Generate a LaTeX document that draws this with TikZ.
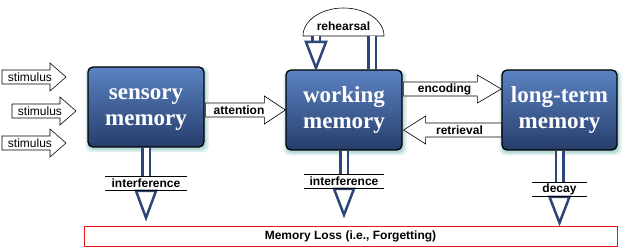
\documentclass[tikz,border=0pt]{standalone}
\usepackage{fontspec}
\setmainfont{Liberation Serif}
\setsansfont{Liberation Sans}
\usetikzlibrary{calc,shadows}
\definecolor{navy}{HTML}{2C4679}
\definecolor{boxtop}{HTML}{5B83C2}
\definecolor{boxbot}{HTML}{273D6C}
\definecolor{glow}{HTML}{8CC8C2}
\definecolor{lossred}{HTML}{E8141B}

% horizontal block arrow: #1 label name, #2 start, #3 tip, #4 text, #5 head length, #6 label style
\newcommand\hblock[6]{%
  \draw[blk] let \p1=#2, \p2=#3, \n1={(\x2>\x1)?1:-1} in
    (\x1,\y1+7pt) -- ({\x2-(\n1)*(#5)},\y1+7pt) -- ({\x2-(\n1)*(#5)},\y1+14pt)
    -- (\x2,\y1) -- ({\x2-(\n1)*(#5)},\y1-14pt) -- ({\x2-(\n1)*(#5)},\y1-7pt)
    -- (\x1,\y1-7pt) -- cycle
    node[#6] (#1) at ({(\x1+\x2-(\n1)*(#5)+(\n1)*8pt)/2},\y1) {#4};}

% downward arrow with label: #1 box, #2 label name, #3 text, #4 offset, #5 label width, #6 head length
\newcommand\downarr[6]{%
  \node[dlbl, minimum width=#5] (#2) at ($(#1.south)+(0,#4)$) {#3};
  \draw[dshaft] (#1.south) -- (#2.north);
  \draw[dhead] ($(#2.south)+(-10,0)$) -- ($(#2.south)+(0,#6)$) -- ($(#2.south)+(10,0)$) -- cycle;
  \draw[lblline] (#2.north west) -- (#2.north east) (#2.south west) -- (#2.south east);}

\begin{document}
\begin{tikzpicture}[x=1pt,y=-1pt,
  mem/.style={draw=black, line width=1.3pt, rounded corners=5pt,
    top color=boxtop, bottom color=boxbot, minimum width=116pt, minimum height=80pt,
    inner sep=0pt, text=white, align=center, font=\bfseries\fontsize{23}{26}\selectfont,
    general shadow={fill=glow, opacity=.3, shadow xshift=1pt, shadow yshift=-2.5pt, shadow scale=1.06},
    general shadow={fill=glow, opacity=.5, shadow xshift=1pt, shadow yshift=-2pt, shadow scale=1.025}},
  blk/.style={draw=black, line width=.6pt, fill=white, line join=miter},
  lbl/.style={inner sep=0pt, font=\sffamily\bfseries\fontsize{12}{14}\selectfont},
  slbl/.style={inner sep=0pt, font=\sffamily\fontsize{12}{14}\selectfont},
  dlbl/.style={fill=white, minimum height=14pt, inner sep=0pt, font=\sffamily\bfseries\fontsize{12}{14}\selectfont},
  dshaft/.style={draw=navy, double=white, line width=2.5pt, double distance=5pt},
  dhead/.style={draw=navy, line width=2.5pt, fill=white, line join=miter},
  lblline/.style={draw=black, line width=.8pt},
  lossbox/.style={draw=lossred, line width=.9pt, minimum width=533pt, minimum height=20pt, inner sep=0pt,
    font=\sffamily\bfseries\fontsize{12}{14}\selectfont}
]
\useasboundingbox (0,0) rectangle (629,248);

% memory boxes
\node[mem] (sensory) at (146,107) {sensory\vphantom{k}\\memory};
\node[mem] (working) at (344,110) {working\\memory};
\node[mem, minimum width=115pt] (longterm) at (559.5,110) {long-term\\memory};

% stimulus arrows
\coordinate (s1a) at (2,77);  \coordinate (s1b) at (66,77);
\coordinate (s2a) at (12,111); \coordinate (s2b) at (76,111);
\coordinate (s3a) at (2,143); \coordinate (s3b) at (66,143);
\hblock{st1}{(s1a)}{(s1b)}{stimulus}{16pt}{slbl}
\hblock{st2}{(s2a)}{(s2b)}{stimulus}{16pt}{slbl}
\hblock{st3}{(s3a)}{(s3b)}{stimulus}{16pt}{slbl}

% attention, encoding, retrieval
\hblock{att}{($(sensory.east |- working.east)+(1,0)$)}{(working.west)}{attention}{21pt}{lbl}
\hblock{enc}{($(working.east)+(1,-21)$)}{($(longterm.west)+(0,-21)$)}{encoding}{24pt}{lbl}
\hblock{ret}{($(longterm.west)+(0,20)$)}{($(working.east)+(1,20)$)}{retrieval}{22pt}{lbl}

% rehearsal loop
\draw[draw=black, line width=.6pt, fill=white] (303,36) arc[start angle=180, end angle=0, x radius=40.5pt, y radius=28pt] -- cycle;
\node[lbl] (reh) at (343.5,26) {rehearsal};
\coordinate (domeR) at (372,36);
\coordinate (domeL) at (316,36);
\draw[dshaft] (domeR |- working.north) -- (domeR);
\draw[dshaft] (domeL) -- ++(0,7);
\draw[dhead] ($(domeL)+(-10,6)$) -- ($(domeL)+(0,32)$) -- ($(domeL)+(10,6)$) -- cycle;

% downward loss arrows
\downarr{sensory}{if1}{interference}{36}{81pt}{27}
\downarr{working}{if2}{interference}{31}{79pt}{26}
\downarr{longterm}{dec}{decay}{39}{54pt}{26}

% memory loss
\node[lossbox] (loss) at (350.5,236) {Memory Loss (i.e., Forgetting)};
\end{tikzpicture}
\end{document}
